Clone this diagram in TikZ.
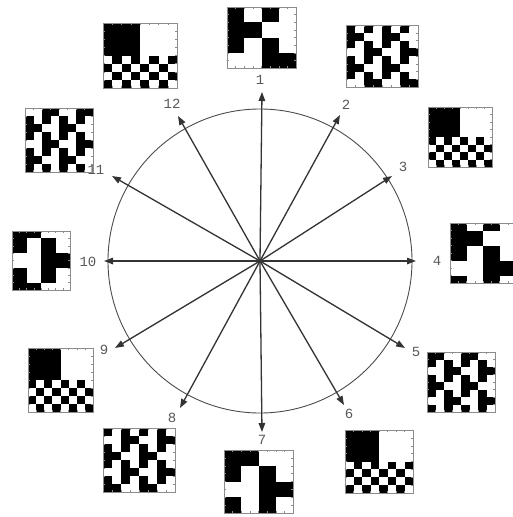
\documentclass[tikz,border=0pt]{standalone}
\usepackage{fontspec}
\setmonofont{Liberation Mono}
\usetikzlibrary{arrows.meta}

\tikzset{
  ring/.style={draw=black!70, line width=0.9pt},
  ray/.style={draw=black!80, line width=1.3pt, -{Triangle[length=9pt,width=6.5pt]}},
  num/.style={font=\ttfamily\fontsize{14}{14}\selectfont, text=black!65, inner sep=1pt},
  frame/.style={draw=black!45, line width=0.8pt},
  tick/.style={draw=black!45, line width=0.5pt},
}

% #1 top left corner, #2 width, #3 height, #4 rows with their black cells
\newcommand\cellsq[4]{%
  \begin{scope}[shift={#1}]
    \pgfmathsetmacro{\cw}{#2/8}
    \pgfmathsetmacro{\ch}{#3/8}
    \foreach \r/\cs in {#4} {
      \foreach \c in \cs {
        \fill (\c*\cw,\r*\ch) rectangle ++(\cw,\ch);
      }
    }
    \draw[frame] (0,0) rectangle (#2,#3);
    \foreach \k in {1,...,7} {
      \draw[tick] (\k*\cw,#3) -- ++(0,-1.8);
      \draw[tick] (\k*\cw,0) -- ++(0,1.8);
      \draw[tick] (0,\k*\ch) -- ++(1.8,0);
      \draw[tick] (#2,\k*\ch) -- ++(-1.8,0);
    }
  \end{scope}}

\begin{document}
\begin{tikzpicture}[x=1pt,y=-1pt]
  \useasboundingbox (0,0) rectangle (512,517);
  \fill[white] (0,0) rectangle (512,517);

  \coordinate (o) at (260,261);
  \draw[ring] (o) circle[radius=152];

  % arrows and their numbers
  \foreach \i/\tx/\ty/\lx/\ly in {
      1/262/92/260/80, 2/340/115/346/105, 3/392/176/403/167,
      4/416/261/437/261, 5/405/348/416/352, 6/344/405/349/414,
      7/262/432/262/440, 8/180/408/172/418, 9/115/348/104/350,
      10/104/261/88/262, 11/112/176/96/170, 12/178/116/172/104} {
    \coordinate (t\i) at (\tx,\ty);
    \node[num] (n\i) at (\lx,\ly) {\i};
    \draw[ray] (o) -- (t\i);
  }

  % coarse patterns
  \cellsq{(227,7)}{69}{61}{0/{0,1,4,5},1/{0,1,4,5},2/{0,1,2,3},3/{0,1,2,3},
    4/{0,1,4,5},5/{0,1,4,5},6/{4,5,6,7},7/{4,5,6,7}}
  \cellsq{(450,223)}{66}{60}{0/{0,1,4,5},1/{0,1,2,3},2/{0,1,2,3},3/{0,1,4,5},
    4/{0,1,4,5},5/{4,5,6,7},6/{4,5,6,7},7/{0,1,4,5}}
  \cellsq{(224,450)}{69}{63}{0/{0,1,2,3},1/{0,1,2,3},2/{0,1,4,5},3/{0,1,4,5},
    4/{4,5,6,7},5/{4,5,6,7},6/{0,1,4,5},7/{0,1,4,5}}
  \cellsq{(12,231)}{58}{59}{0/{0,1,2,3},1/{0,1,4,5},2/{0,1,4,5},3/{4,5,6,7},
    4/{4,5,6,7},5/{0,1,4,5},6/{0,1,4,5},7/{0,1,2,3}}

  % fine patterns
  \cellsq{(346,25)}{72}{62}{0/{0,2,4,6},1/{0,1,4,5},2/{0,2,4,6},3/{2,3,6,7},
    4/{0,2,4,6},5/{0,1,4,5},6/{0,2,4,6},7/{2,3,6,7}}
  \cellsq{(427,352)}{68}{60}{0/{0,1,4,5},1/{0,2,4,6},2/{2,3,6,7},3/{0,2,4,6},
    4/{0,1,4,5},5/{0,2,4,6},6/{2,3,6,7},7/{0,2,4,6}}
  \cellsq{(103,428)}{72}{64}{0/{0,2,4,6},1/{2,3,6,7},2/{0,2,4,6},3/{0,1,4,5},
    4/{0,2,4,6},5/{2,3,6,7},6/{0,2,4,6},7/{0,1,4,5}}
  \cellsq{(25,108)}{68}{64}{0/{2,3,6,7},1/{0,2,4,6},2/{0,1,4,5},3/{0,2,4,6},
    4/{2,3,6,7},5/{0,2,4,6},6/{0,1,4,5},7/{0,2,4,6}}

  % half block, half checkerboard
  \cellsq{(428,107)}{64}{60}{0/{0,1,2,3},1/{0,1,2,3},2/{0,1,2,3},3/{0,1,2,3},
    4/{0,2,4,6},5/{1,3,5,7},6/{0,2,4,6},7/{1,3,5,7}}
  \cellsq{(345,430)}{68}{63}{0/{0,1,2,3},1/{0,1,2,3},2/{0,1,2,3},3/{0,1,2,3},
    4/{1,3,5,7},5/{0,2,4,6},6/{1,3,5,7},7/{0,2,4,6}}
  \cellsq{(28,348)}{65}{64}{0/{0,1,2,3},1/{0,1,2,3},2/{0,1,2,3},3/{0,1,2,3},
    4/{0,2,4,6},5/{1,3,5,7},6/{0,2,4,6},7/{1,3,5,7}}
  \cellsq{(103,23)}{74}{65}{0/{0,1,2,3},1/{0,1,2,3},2/{0,1,2,3},3/{0,1,2,3},
    4/{1,3,5,7},5/{0,2,4,6},6/{1,3,5,7},7/{0,2,4,6}}
\end{tikzpicture}
\end{document}
